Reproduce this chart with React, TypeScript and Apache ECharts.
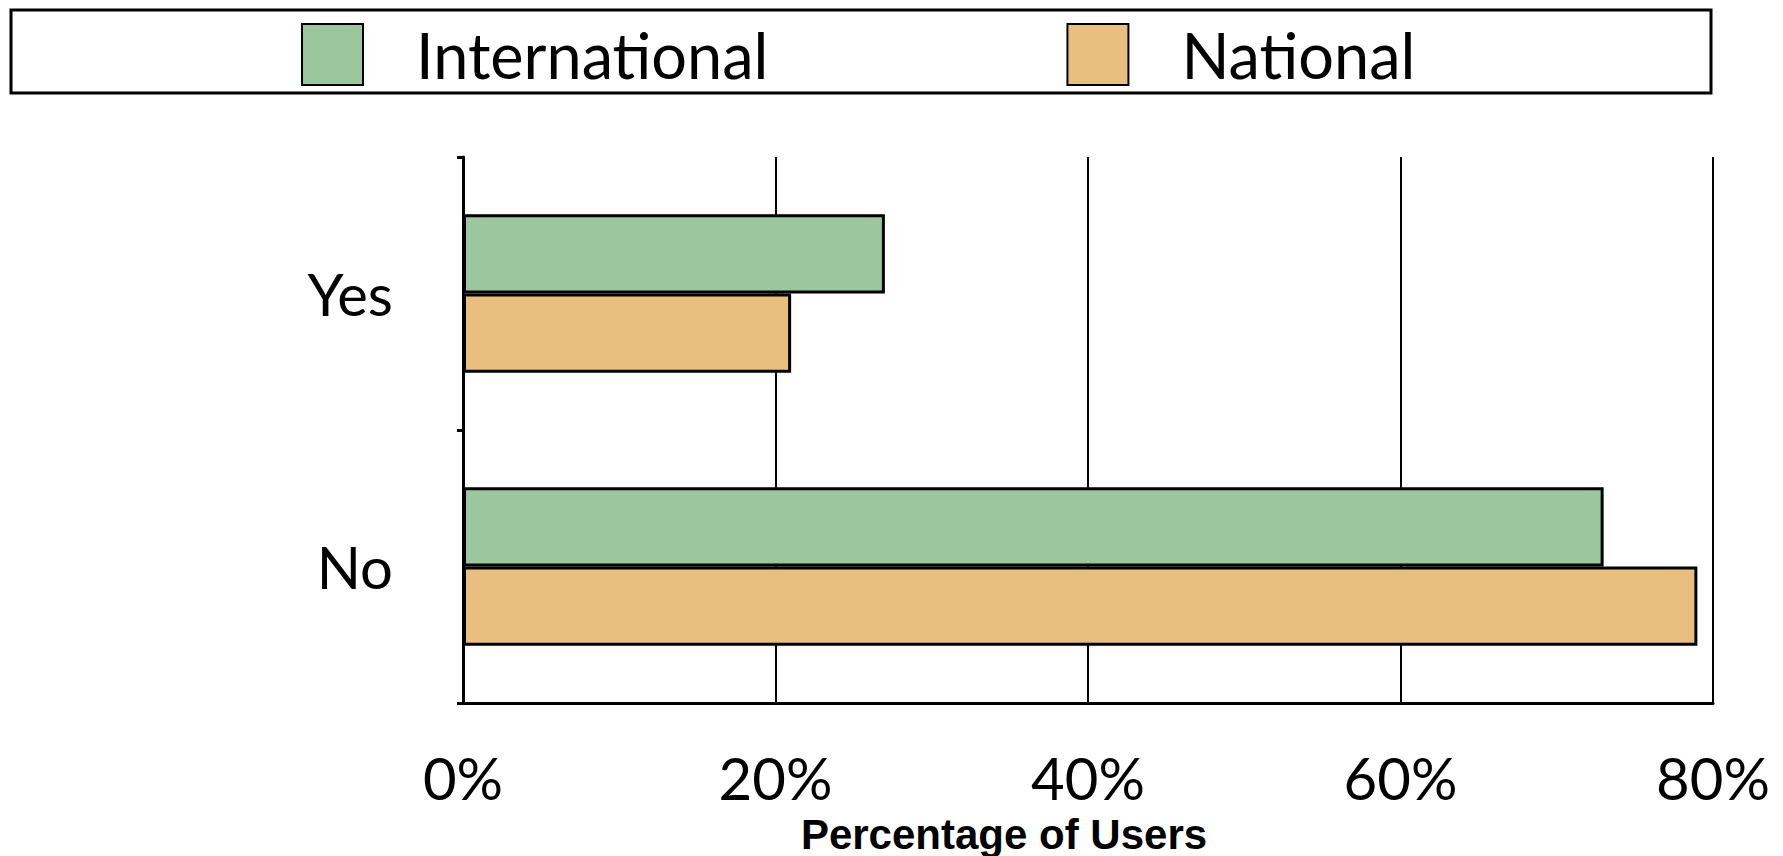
import React, { useEffect, useRef } from "react";
import * as echarts from "echarts";

const categories = ["Yes", "No"];
const seriesNames = ["International", "National"];
const internationalValues = [27, 73];
const nationalValues = [21, 79];
const xTicks = [0, 20, 40, 60, 80];
const colors = ["#9CC79E", "#E8BF7E"];

export default function App() {
  const ref = useRef<HTMLDivElement>(null);
  useEffect(() => {
    if (!ref.current) return;
    document.body.style.margin = "0";
    const chart = echarts.init(ref.current, undefined, { renderer: "svg" });
    const font = "Lato";
    chart.setOption({
      animation: false,
      backgroundColor: "#ffffff",
      textStyle: { fontFamily: font, color: "#000" },
      legend: {
        left: 301,
        top: 23,
        padding: 0,
        itemWidth: 61,
        itemHeight: 61,
        itemGap: 298,
        icon: "rect",
        data: seriesNames,
        itemStyle: { borderColor: "#000", borderWidth: 2 },
        textStyle: {
          fontFamily: font,
          fontSize: 63,
          color: "#000",
          padding: [0, 0, 0, 48],
        },
      },
      graphic: [
        {
          type: "rect",
          shape: { x: 11, y: 10, width: 1700, height: 83 },
          style: { fill: "none", stroke: "#000", lineWidth: 3 },
          silent: true,
        },
        {
          type: "text",
          x: 1004,
          y: 834,
          style: {
            text: "Percentage of Users",
            fontFamily: "Liberation Sans",
            fontWeight: "bold",
            fontSize: 42,
            fill: "#000",
            align: "center",
            verticalAlign: "middle",
          },
        },
      ],
      grid: { left: 463, right: 70, top: 157, bottom: 153 },
      xAxis: {
        type: "value",
        min: xTicks[0],
        max: xTicks[xTicks.length - 1],
        interval: 20,
        axisLine: { show: true, lineStyle: { color: "#000", width: 3 } },
        axisTick: { show: false },
        splitLine: { show: true, lineStyle: { color: "#000", width: 2 } },
        axisLabel: {
          formatter: "{value}%",
          fontFamily: font,
          fontSize: 58,
          color: "#000",
          margin: 45,
        },
      },
      yAxis: {
        type: "category",
        data: categories,
        inverse: true,
        axisLine: { show: true, lineStyle: { color: "#000", width: 3 } },
        axisTick: { show: true, length: 6, lineStyle: { color: "#000", width: 3 } },
        axisLabel: { fontFamily: font, fontSize: 58, color: "#000", margin: 70 },
        splitLine: { show: false },
      },
      series: [
        {
          name: seriesNames[0],
          type: "bar",
          data: internationalValues,
          barGap: "0%",
          barCategoryGap: "42%",
          itemStyle: { color: colors[0], borderColor: "#000", borderWidth: 3 },
        },
        {
          name: seriesNames[1],
          type: "bar",
          data: nationalValues,
          barGap: "0%",
          barCategoryGap: "42%",
          itemStyle: { color: colors[1], borderColor: "#000", borderWidth: 3 },
        },
      ],
    });
    return () => chart.dispose();
  }, []);
  return <div ref={ref} style={{ width: 1783, height: 856 }} />;
}
